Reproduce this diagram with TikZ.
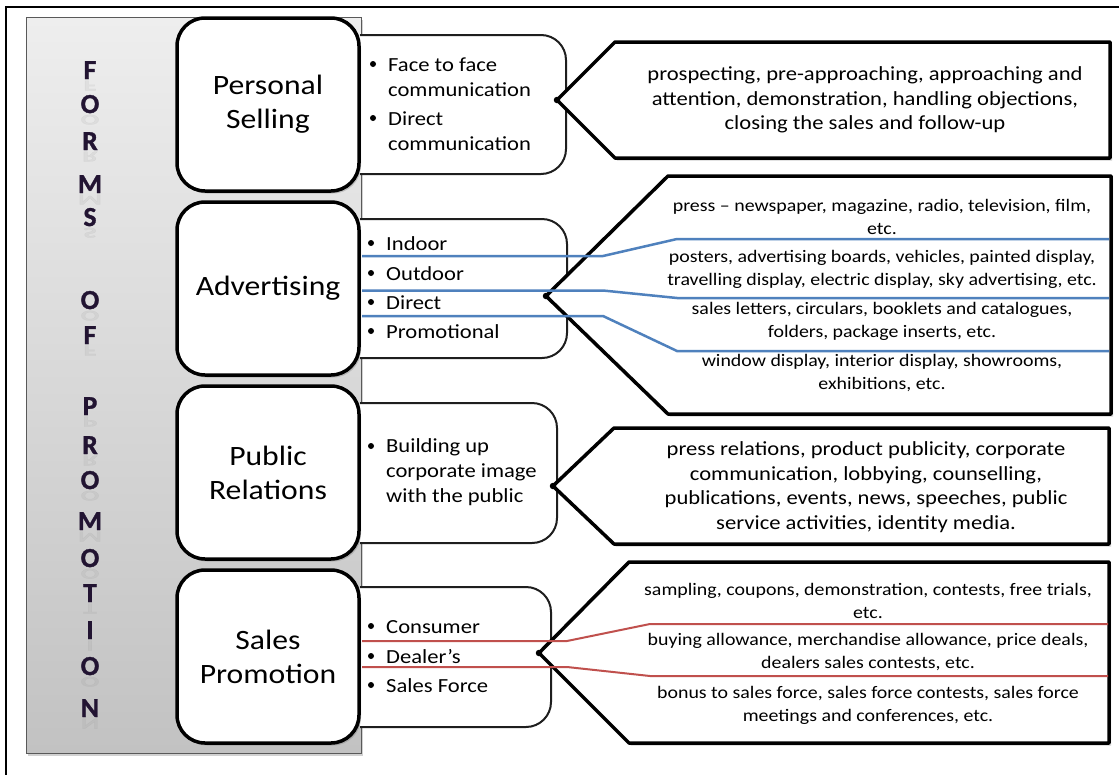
\documentclass[tikz,border=0pt]{standalone}
\usepackage{fontspec}
\setmainfont{Carlito}[FakeStretch=1.13]
\newfontfamily\titlefont{Carlito}[UprightFont=*-Bold, FakeBold=1.2]
\usetikzlibrary{shadows}

\definecolor{lettercol}{RGB}{34,20,50}
\definecolor{advblue}{RGB}{79,129,189}
\definecolor{spred}{RGB}{192,80,77}
\definecolor{bartop}{RGB}{238,238,238}
\definecolor{barbot}{RGB}{194,194,194}
\definecolor{boxline}{RGB}{30,30,30}

\tikzset{
  softshadow/.style={drop shadow={opacity=0.3, shadow xshift=2pt, shadow yshift=-2.5pt, fill=black!60}},
  catbox/.style={draw=black, line width=3.5pt, fill=white, rounded corners=28pt,
    minimum width=182pt, minimum height=173pt, align=center, inner sep=0pt,
    font=\fontsize{28}{34}\selectfont, softshadow},
  itembox/.style={draw=boxline, line width=2pt, fill=white, rounded corners=25pt},
  callout/.style={draw=black, line width=3.5pt, fill=white, line join=round, softshadow},
  apexdot/.style={fill=black, circle, inner sep=0pt, minimum size=6.5pt},
  letterstyle/.style={font=\titlefont\fontsize{27.5}{27.5}\selectfont, text=lettercol, anchor=base, inner sep=0pt},
  reflectstyle/.style={font=\titlefont\fontsize{27.5}{27.5}\selectfont, text=gray, opacity=0.1, anchor=north, inner sep=0pt},
  itemtext/.style={font=\fontsize{20}{25}\selectfont, align=left, anchor=west, inner sep=0pt},
  bigtext/.style={font=\fontsize{20}{24.5}\selectfont, align=center, inner sep=0pt},
  smalltext/.style={font=\fontsize{17.6}{23}\selectfont, align=center, inner sep=0pt},
  bluelink/.style={draw=advblue, line width=2.5pt},
  redlink/.style={draw=spred, line width=2pt},
  bulletdot/.style={fill=black, circle, inner sep=0pt, minimum size=6pt},
}

\begin{document}
\begin{tikzpicture}[x=1pt, y=-1pt]
\useasboundingbox (0,0) rectangle (1119,774);
\clip (0,0) rectangle (1119,774);

% outer frame
\draw[line width=2pt] (6,7) rectangle (1140,800);

% grey band holding the vertical title
\shade[top color=bartop, bottom color=barbot, draw=gray!70!black, line width=0.8pt, softshadow]
  (26,17) rectangle (361,753);

% vertical title with faint reflections
\foreach \c/\yy [count=\i] in {F/70, O/104, R/141, M/184, S/217, O/300, F/335,
    P/406, R/445, O/480, M/521, O/558, T/593, I/630, O/666, N/708} {
  \node[letterstyle] (let\i) at (90,\yy+9) {\c};
  \node[reflectstyle] (ref\i) at (90,\yy+10.5) {\scalebox{1}[-0.55]{\c}};
}

% item boxes (square left end, rounded right end)
\path[itembox] (360,35) -- (566,35) -- (566,174) -- (360,174);
\path[itembox] (360,219) -- (567,219) -- (567,358) -- (360,358);
\path[itembox] (360,403) -- (557,403) -- (557,543) -- (360,543);
\path[itembox] (360,587) -- (551,587) -- (551,727) -- (360,727);

% category boxes
\node[catbox] (ps) at (268,104.5) {Personal\\Selling};
\node[catbox] (ad) at (268,288.5) {Advertising};
\node[catbox] (pr) at (268,472.5) {Public\\Relations};
\node[catbox] (sp) at (268,656.5) {Sales\\Promotion};

% callout shapes
\coordinate (psapex) at (557,100);
\coordinate (adapex) at (546,296);
\coordinate (prapex) at (553,486);
\coordinate (spapex) at (539,653);
\path[callout] (psapex) -- (615,42) -- (1110,42) -- (1110,158) -- (615,158) -- cycle;
\path[callout] (adapex) -- (668,176) -- (1111,176) -- (1111,414) -- (668,414) -- cycle;
\path[callout] (prapex) -- (614,428) -- (1109,428) -- (1109,544) -- (614,544) -- cycle;
\path[callout] (spapex) -- (629,562) -- (1109,562) -- (1109,743) -- (629,743) -- cycle;
\node[apexdot] (psdot) at (psapex) {};
\node[apexdot] (addot) at (adapex) {};
\node[apexdot] (prdot) at (prapex) {};
\node[apexdot] (spdot) at (spapex) {};

% separators between advertising media
\coordinate (a1s) at (362,256);   \coordinate (a1e) at (1109,239);
\coordinate (a2s) at (362,290.5); \coordinate (a2e) at (1109,298);
\coordinate (a3s) at (362,316);   \coordinate (a3e) at (1109,351);
\draw[bluelink] (a1s) -- (603,256) -- (677,239) -- (a1e);
\draw[bluelink] (a2s) -- (603,290.5) -- (677,298) -- (a2e);
\draw[bluelink] (a3s) -- (603,316) -- (677,351) -- (a3e);

% separators between sales promotion groups
\coordinate (s1s) at (362,641); \coordinate (s1e) at (1108,624);
\coordinate (s2s) at (362,667); \coordinate (s2e) at (1108,676);
\draw[redlink] (s1s) -- (567,641) -- (650,624) -- (s1e);
\draw[redlink] (s2s) -- (567,667) -- (650,676) -- (s2e);

% bullet items
\node[bulletdot] (b1) at (373,64) {};
\node[itemtext] (ps1) at (388,77.5) {Face to face\\communication};
\node[bulletdot] (b2) at (373,118) {};
\node[itemtext] (ps2) at (388,131.5) {Direct\\communication};

\node[bulletdot] (b3) at (371,243) {};
\node[itemtext] (ad1) at (386,244) {Indoor};
\node[bulletdot] (b4) at (371,273) {};
\node[itemtext] (ad2) at (386,274) {Outdoor};
\node[bulletdot] (b5) at (371,302) {};
\node[itemtext] (ad3) at (386,303) {Direct};
\node[bulletdot] (b6) at (371,331) {};
\node[itemtext] (ad4) at (386,332) {Promotional};

\node[bulletdot] (b7) at (371,446) {};
\node[itemtext] (pr1) at (386,472) {Building up\\corporate image\\with the public};

\node[bulletdot] (b8) at (371,626) {};
\node[itemtext] (sp1) at (386,627) {Consumer};
\node[bulletdot] (b9) at (371,656) {};
\node[itemtext] (sp2) at (386,657) {Dealer’s};
\node[bulletdot] (b10) at (371,685) {};
\node[itemtext] (sp3) at (386,686) {Sales Force};

% callout texts
\node[bigtext] (pstext) at (865,100) {prospecting, pre-approaching, approaching and\\attention, demonstration, handling objections,\\closing the sales and follow-up};

\node[smalltext] (adt1) at (882,216.5) {press – newspaper, magazine, radio, television, film,\\etc.};
\node[smalltext] (adt2) at (882,269) {posters, advertising boards, vehicles, painted display,\\travelling display, electric display, sky advertising, etc.};
\node[smalltext] (adt3) at (882,321) {sales letters, circulars, booklets and catalogues,\\folders, package inserts, etc.};
\node[smalltext] (adt4) at (882,373.5) {window display, interior display, showrooms,\\exhibitions, etc.};

\node[bigtext] (prtext) at (866,487) {press relations, product publicity, corporate\\communication, lobbying, counselling,\\publications, events, news, speeches, public\\service activities, identity media.};

\node[smalltext] (spt1) at (868,601) {sampling, coupons, demonstration, contests, free trials,\\etc.};
\node[smalltext] (spt2) at (868,652.5) {buying allowance, merchandise allowance, price deals,\\dealers sales contests, etc.};
\node[smalltext] (spt3) at (868,705) {bonus to sales force, sales force contests, sales force\\meetings and conferences, etc.};
\end{tikzpicture}
\end{document}
